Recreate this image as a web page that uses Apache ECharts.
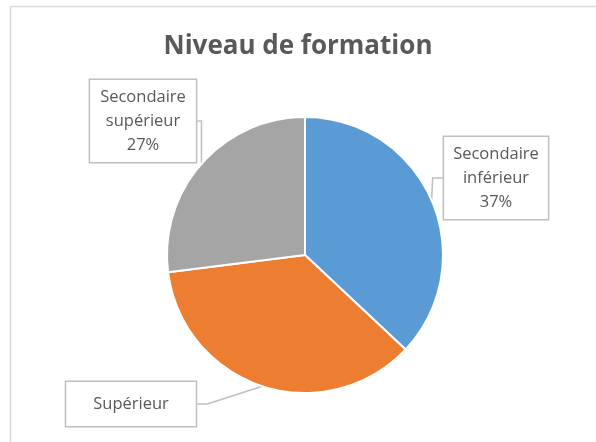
<!DOCTYPE html>
<html>
<head>
<meta charset="utf-8">
<script src="https://cdn.jsdelivr.net/npm/echarts@6/dist/echarts.min.js"></script>
<style>
  html, body { margin: 0; padding: 0; background: #fff; }
  #chart { width: 596px; height: 442px; }
</style>
</head>
<body>
<div id="chart"></div>
<script>
// data
var categories = ['Secondaire inférieur', 'Supérieur', 'Secondaire supérieur'];
var labelTexts = ['Secondaire\ninférieur\n37%', 'Supérieur', 'Secondaire\nsupérieur\n27%'];
var values = [37, 36, 27];
var colors = ['#5B9BD5', '#ED7D31', '#A5A5A5'];

// where each callout box sits (centre of box) and its padding
var boxPos = [[496, 178], [131, 404], [143, 121]];
var boxPad = [[6, 9, 4, 9], [10, 27, 10, 27], [6, 10, 4, 10]];

var chart = echarts.init(document.getElementById('chart'));

var pieData = [];
for (var i = 0; i < values.length; i++) {
  pieData.push({
    name: categories[i],
    value: values[i],
    itemStyle: { color: colors[i] },
    label: { formatter: labelTexts[i], padding: boxPad[i] }
  });
}

var option = {
  animation: false,
  backgroundColor: '#fff',
  title: {
    text: 'Niveau de formation',
    left: 'center',
    top: 29,
    textStyle: {
      fontFamily: 'Open Sans',
      fontSize: 26,
      fontWeight: 'bold',
      color: '#595959'
    }
  },
  graphic: [{
    type: 'rect',
    shape: { x: 10.5, y: 6.5, width: 600, height: 460 },
    style: { fill: 'none', stroke: '#d9d9d9', lineWidth: 1.5 },
    silent: true
  }],
  series: [{
    type: 'pie',
    center: [305, 255],
    radius: 138,
    startAngle: 90,
    clockwise: true,
    itemStyle: { borderColor: '#fff', borderWidth: 2 },
    label: {
      show: true,
      position: 'outside',
      fontFamily: 'Open Sans',
      fontSize: 16.5,
      lineHeight: 24,
      color: '#595959',
      align: 'center',
      backgroundColor: '#fff',
      borderColor: '#bfbfbf',
      borderWidth: 1.5
    },
    labelLine: {
      show: true,
      length: 10,
      length2: 10,
      lineStyle: { color: '#bfbfbf', width: 1.5 }
    },
    labelLayout: function (params) {
      var p = boxPos[params.dataIndex];
      return {
        x: p[0],
        y: p[1],
        align: 'center',
        verticalAlign: 'middle',
        moveOverlap: false,
        hideOverlap: false
      };
    },
    data: pieData
  }]
};

chart.setOption(option);
</script>
</body>
</html>
